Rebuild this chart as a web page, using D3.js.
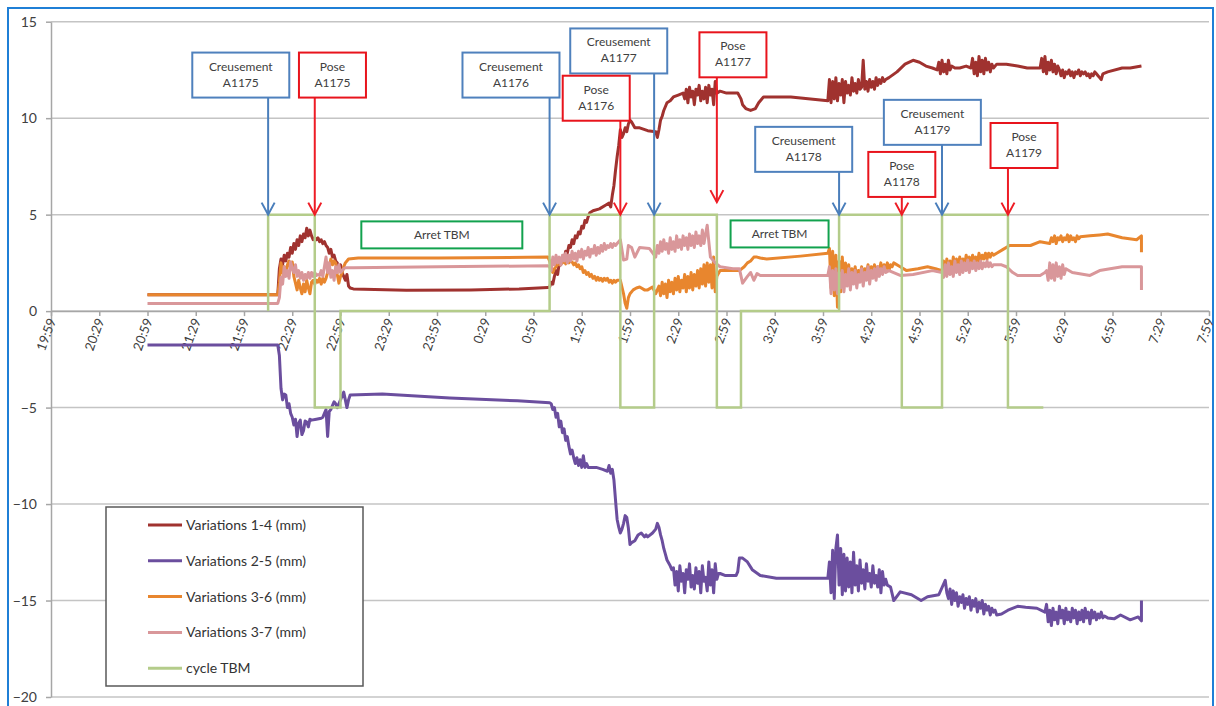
<!DOCTYPE html>
<html>
<head>
<meta charset="utf-8">
<script src="https://cdn.jsdelivr.net/npm/d3@7"></script>
<style>
  body { margin: 0; background: #fff; }
  svg { display: block; font-family: Lato, "Open Sans", sans-serif; }
</style>
</head>
<body>
<div id="chart"></div>
<script>
// Convergence measurements during TBM cycles (night shift)

const tickLabels = ["19:59", "20:29", "20:59", "21:29", "21:59", "22:29", "22:59", "23:29", "23:59",
  "0:29", "0:59", "1:29", "1:59", "2:29", "2:59", "3:29", "3:59", "4:29", "4:59", "5:29", "5:59",
  "6:29", "6:59", "7:29", "7:59"];
const yTicks = [-20, -15, -10, -5, 0, 5, 10, 15];

const seriesNames = ["Variations 1-4 (mm)", "Variations 2-5 (mm)", "Variations 3-6 (mm)",
  "Variations 3-7 (mm)", "cycle TBM"];
const seriesColors = ["#a0322f", "#6b4e9e", "#e8862e", "#d9979a", "#b4cc8a"];

// rows: [start time, value at that minute, value at next minute, ...]
const series14 = [
  ["20:59", 0.85], ["22:20", 0.85],
  ["22:21", 2.2, 2.7, 2.4, 2.9, 2.6, 3.0, 2.8, 3.3, 3.0, 3.5],
  ["22:31", 3.2, 3.7, 3.4, 3.9, 3.6, 4.0, 3.8, 4.3, 3.9, 4.2],
  ["22:41", 3.9, 3.7, 3.8, 3.7, 3.8, 3.6, 3.7, 3.5, 3.6, 3.4],
  ["22:51", 3.3, 3.0, 3.2, 2.8, 2.9, 2.6, 2.5, 2.2, 2.4],
  ["23:00", 2.0, 1.8, 1.6, 1.9, 1.3, 1.2],
  ["23:07", 1.15], ["23:40", 1.08], ["0:20", 1.1], ["0:50", 1.15], ["1:08", 1.22],
  ["1:09", 1.25, 1.5, 1.4, 1.8, 2.1, 1.9, 2.5, 2.4, 2.8, 2.7],
  ["1:19", 3.1, 3.0, 3.4, 3.3, 3.7, 3.5, 3.9, 3.8, 4.1, 4.0],
  ["1:29", 4.4, 4.3, 4.7, 4.6, 4.9, 5.1],
  ["1:36", 5.2], ["1:40", 5.3], ["1:44", 5.5],
  ["1:46", 5.6, 5.4, 6.0, 6.5, 7.3, 8.0, 8.6, 9.4, 9.0, 9.2],
  ["1:56", 9.5, 9.3, 9.7, 9.9, 9.8],
  ["2:02", 9.5], ["2:05", 9.5], ["2:10", 9.35], ["2:15", 9.3],
  ["2:16", 9.0, 9.4, 9.9, 10.1, 10.4],
  ["2:22", 10.8], ["2:24", 10.9], ["2:26", 11.1], ["2:29", 11.2], ["2:32", 11.3],
  ["2:33", 11.0, 11.5, 10.8, 11.6, 11.1, 11.4, 10.7, 11.5, 11.2, 11.7],
  ["2:43", 10.9, 11.4, 11.0, 11.6, 10.8, 11.7, 11.2, 11.5, 10.7, 11.9],
  ["2:53", 11.3], ["2:55", 11.4], ["2:59", 11.3], ["3:06", 11.3], ["3:08", 11.0], ["3:09", 10.7],
  ["3:11", 10.5], ["3:14", 10.4], ["3:17", 10.5], ["3:19", 10.8], ["3:22", 11.1], ["3:39", 11.1], ["4:02", 10.9],
  ["4:03", 12.0, 10.8, 11.9, 11.0, 12.1, 10.9, 11.8, 11.2, 12.0, 10.8],
  ["4:13", 11.9, 11.3, 11.7, 11.2, 12.1, 11.4, 11.8, 11.3, 12.0, 11.5],
  ["4:23", 11.6, 13.0, 11.5, 11.9, 11.4, 12.0, 11.6, 11.9, 11.5, 12.1],
  ["4:33", 11.7, 12.0, 11.8, 12.1, 11.9, 12.0],
  ["4:40", 12.1], ["4:45", 12.4], ["4:50", 12.8], ["4:55", 13.0], ["4:59", 12.9], ["5:03", 12.7],
  ["5:07", 12.6], ["5:10", 12.5],
  ["5:11", 12.9, 12.3, 13.0, 12.4, 12.8, 12.3, 13.0, 12.5, 12.7],
  ["5:21", 12.6], ["5:24", 12.6], ["5:28", 12.7], ["5:31", 12.6],
  ["5:32", 13.1, 12.3, 12.9, 12.2, 13.2, 12.4, 13.0, 12.3, 13.1, 12.5],
  ["5:42", 12.9, 12.4, 12.8, 12.6],
  ["5:47", 12.8], ["5:53", 12.8], ["6:00", 12.7], ["6:06", 12.6], ["6:14", 12.6],
  ["6:15", 13.1, 12.4, 13.2, 12.3, 12.9, 12.5, 13.0, 12.4, 12.8, 12.3],
  ["6:25", 12.7, 12.5, 12.2, 12.5, 12.1, 12.4, 12.3, 12.5, 12.2, 12.4],
  ["6:35", 12.1, 12.4, 12.3, 12.5, 12.2, 12.4, 12.3, 12.4, 12.2, 12.3],
  ["6:45", 12.1, 12.3, 12.2, 12.4, 12.3, 12.2, 12.1],
  ["6:52", 12.0], ["6:53", 12.3], ["6:56", 12.4], ["7:05", 12.6], ["7:10", 12.6], ["7:17", 12.7]
];

const series25 = [
  ["20:59", -1.76], ["22:20", -1.76],
  ["22:21", -2.3, -4.0, -4.6, -4.3, -4.35, -5.0, -4.8, -5.3, -5.5, -5.9],
  ["22:31", -5.6, -6.5, -5.8, -5.65, -6.4, -6.2, -5.7, -5.75, -6.0, -5.6],
  ["22:41", -5.65], ["22:44", -5.6], ["22:47", -5.55], ["22:48", -5.5],
  ["22:49", -5.3, -5.1, -6.5, -5.2, -5.1, -4.9, -4.7, -4.8, -5.0, -4.8, -4.6],
  ["23:00", -4.4, -4.2, -4.6, -5.0, -4.6, -4.35],
  ["23:25", -4.3], ["0:07", -4.5], ["0:49", -4.65], ["1:09", -4.75],
  ["1:10", -4.8, -5.1, -5.0, -5.5, -5.3, -6.0, -5.7, -6.3, -6.1, -6.7],
  ["1:20", -6.5, -7.0, -7.4, -7.2, -7.6, -7.9, -7.6, -8.0, -7.7, -8.1],
  ["1:30", -7.5, -8.1, -7.9, -8.1],
  ["1:38", -8.1], ["1:42", -8.2],
  ["1:45", -8.3, -8.0, -8.4, -8.2, -8.75, -9.8, -10.8, -11.2, -11.5, -11.3],
  ["1:55", -11.0, -10.6, -10.7, -11.25, -12.1, -12.0],
  ["2:02", -11.9], ["2:04", -11.6], ["2:06", -11.5], ["2:08", -11.7], ["2:09", -11.6], ["2:10", -11.7],
  ["2:13", -11.5], ["2:15", -11.3],
  ["2:16", -11.0, -11.2, -11.6, -11.9, -12.3, -12.6, -12.9],
  ["2:24", -13.2], ["2:25", -13.4],
  ["2:26", -13.3, -14.2, -13.5, -14.5, -13.2, -14.0, -13.6, -14.6, -13.4, -13.9],
  ["2:36", -13.1, -14.3, -13.7, -14.4, -13.3, -14.1, -13.5, -14.6, -13.2, -14.0],
  ["2:46", -13.8, -14.5, -13.0, -14.2, -13.4, -14.6, -13.1, -13.9, -13.6],
  ["2:55", -13.6], ["2:58", -13.7], ["3:05", -13.7], ["3:06", -13.5], ["3:07", -12.8], ["3:09", -12.8],
  ["3:12", -13.0], ["3:15", -13.4], ["3:20", -13.7], ["3:30", -13.85], ["4:02", -13.85],
  ["4:03", -13.0, -14.6, -12.4, -14.9, -12.3, -11.6, -14.2, -12.3, -14.7, -12.6],
  ["4:13", -14.5, -12.8, -14.3, -13.0, -14.6, -12.5, -14.2, -13.2, -14.5, -12.9],
  ["4:23", -14.1, -13.4, -14.4, -13.1, -14.0, -13.6, -14.3, -13.2, -14.1, -13.7],
  ["4:33", -14.3, -13.4, -14.6, -13.5, -14.2, -13.9, -14.2],
  ["4:41", -14.3], ["4:43", -15.0], ["4:47", -14.55], ["4:54", -14.7], ["5:00", -15.0], ["5:04", -14.8],
  ["5:11", -14.7], ["5:15", -13.95],
  ["5:16", -14.6, -14.9, -14.4, -15.2, -14.5, -15.0, -14.6, -15.3, -14.8, -15.1],
  ["5:26", -14.7, -15.4, -14.9, -15.2, -14.8, -15.5, -15.0, -15.3, -14.9, -15.6],
  ["5:36", -15.1, -15.4, -15.0, -15.7, -15.2, -15.5, -15.3, -15.75, -15.4, -15.6],
  ["5:46", -15.5, -15.75],
  ["5:50", -15.7], ["5:54", -15.5], ["6:00", -15.3], ["6:05", -15.35], ["6:12", -15.4], ["6:17", -15.6],
  ["6:18", -15.2, -16.1, -15.5, -16.3, -15.4, -16.0, -15.6, -16.2, -15.3, -15.9],
  ["6:28", -15.5, -16.2, -15.4, -16.0, -15.6, -16.1, -15.4, -15.9, -15.5, -16.2],
  ["6:38", -15.6, -16.0, -15.5, -16.1, -15.4, -15.9, -15.6, -16.2, -15.5, -15.9],
  ["6:48", -15.6, -16.0, -15.7, -15.9, -15.6, -15.9, -15.8],
  ["6:56", -15.9], ["7:00", -15.95], ["7:04", -15.75], ["7:10", -16.0], ["7:15", -15.85],
  ["7:17", -16.05], ["7:17", -15.0]
];

const series36 = [
  ["20:59", 0.85], ["22:20", 0.85],
  ["22:21", 1.5, 2.5, 2.0, 2.3, 1.9, 2.4, 2.6, 2.2, 2.55, 1.8],
  ["22:31", 1.45, 1.1, 1.6, 1.2, 0.9, 1.4, 1.0, 1.6, 1.2, 0.9],
  ["22:41", 1.5, 1.6, 1.4, 1.6, 1.5, 1.7, 1.4, 1.7, 1.5, 1.7],
  ["22:51", 2.0, 2.3, 2.7, 2.4, 2.6, 2.5, 1.9, 1.45, 1.8],
  ["23:00", 2.0, 2.3, 2.5, 2.6, 2.7],
  ["23:10", 2.75], ["0:00", 2.75], ["1:08", 2.8],
  ["1:09", 2.6, 2.3, 2.0, 2.2, 2.3, 2.5, 2.4, 2.6, 2.5, 2.6],
  ["1:19", 2.45, 2.6, 2.5, 2.6, 2.55, 2.4, 2.5, 2.3, 2.4, 2.2],
  ["1:29", 2.3, 2.0, 2.1, 1.9, 2.0, 1.8, 1.9, 1.7, 1.8, 1.6],
  ["1:39", 1.75, 1.6, 1.7, 1.55, 1.7, 1.6, 1.7, 1.5, 1.6, 1.45],
  ["1:49", 1.6, 1.5, 1.6, 1.6],
  ["1:53", 1.6], ["1:55", 0.9], ["1:56", 0.4], ["1:57", 0.15], ["1:58", 0.7], ["1:59", 0.9], ["2:01", 1.1],
  ["2:03", 1.2], ["2:05", 1.25], ["2:08", 1.1], ["2:10", 1.1], ["2:13", 1.25], ["2:15", 0.9], ["2:16", 1.1],
  ["2:17", 1.3, 0.8, 1.5, 0.9, 1.4, 0.7, 1.6, 1.0, 1.5, 0.9],
  ["2:27", 1.7, 1.1, 1.8, 1.0, 1.6, 1.2, 1.9, 1.0, 1.8, 1.2],
  ["2:37", 2.0, 1.1, 1.9, 1.3, 2.1, 1.2, 2.2, 1.4, 2.4, 1.3],
  ["2:47", 2.5, 1.5, 2.4, 1.2, 2.8, 1.0],
  ["2:53", 1.8], ["2:55", 2.1], ["2:59", 2.1], ["3:07", 2.1], ["3:10", 2.3], ["3:12", 2.5], ["3:14", 2.6],
  ["3:16", 2.8], ["3:18", 2.8], ["3:20", 2.75], ["3:24", 2.7], ["3:45", 2.85], ["4:02", 3.0],
  ["4:03", 3.25, 1.2, 3.1, 0.8, 2.9, 0.2, 2.6, 1.0, 2.8, 1.3],
  ["4:13", 2.5, 1.5, 2.4, 1.6],
  ["4:17", 2.2, 1.7, 2.3, 1.6, 2.1, 1.8, 2.3, 1.7, 2.2, 1.9],
  ["4:27", 2.4, 1.8, 2.3, 2.0, 2.4, 1.9, 2.3, 2.1, 2.5, 2.0],
  ["4:37", 2.4, 2.2, 2.5, 2.1, 2.4, 2.3],
  ["4:43", 2.5], ["4:47", 2.3], ["4:51", 2.1], ["4:58", 2.2], ["5:04", 2.3], ["5:09", 2.2], ["5:13", 2.1],
  ["5:14", 2.6, 2.0, 2.7, 2.2, 2.6, 2.1, 2.8, 2.3, 2.7, 2.2],
  ["5:24", 2.8, 2.4, 2.7, 2.3, 2.9, 2.5, 2.8, 2.4, 2.9, 2.6],
  ["5:34", 2.8, 2.5, 3.0, 2.6, 2.9, 2.7, 3.0, 2.7, 3.0, 2.8],
  ["5:44", 3.0, 2.9],
  ["5:47", 3.0], ["5:51", 3.2], ["5:55", 3.4], ["6:08", 3.4], ["6:14", 3.6],
  ["6:20", 3.5, 3.8, 3.6, 3.9, 3.5, 3.8, 3.7, 3.9, 3.6, 3.8],
  ["6:30", 3.7, 3.95, 3.6, 3.9, 3.7, 3.8, 3.6, 3.9, 3.75, 3.85],
  ["6:45", 3.9], ["6:51", 3.95], ["6:56", 4.0], ["7:05", 3.8], ["7:14", 3.7], ["7:17", 3.9], ["7:17", 3.05]
];

const series37 = [
  ["20:59", 0.4], ["22:20", 0.4],
  ["22:21", 0.7, 1.75, 1.4, 2.3, 1.8, 2.1, 1.7, 2.55, 2.2, 2.0],
  ["22:31", 2.4, 1.8, 2.1, 1.7, 2.0, 1.6, 1.9, 1.7, 2.0, 1.7],
  ["22:41", 2.0, 1.8, 2.0, 1.85, 1.9, 1.85, 2.1, 1.8, 2.3, 2.8],
  ["22:51", 2.0, 2.5, 1.75, 2.1, 1.6, 2.3, 2.0, 2.4, 2.0],
  ["23:00", 2.1, 2.2, 2.25],
  ["23:07", 2.25], ["0:00", 2.3], ["1:08", 2.35],
  ["1:09", 2.3, 2.1, 2.8, 2.4, 2.9, 2.5, 2.8, 2.4, 2.9, 2.6],
  ["1:19", 3.0, 2.5, 2.9, 2.6, 3.1, 2.7, 3.0, 2.6, 3.1, 2.8],
  ["1:29", 3.2, 2.7, 3.1, 2.9, 3.3, 2.8, 3.2, 3.0, 3.4, 2.9],
  ["1:39", 3.3, 3.0, 3.4, 3.1, 3.5, 3.2, 3.4, 3.3, 3.5, 3.3],
  ["1:49", 3.5, 3.4, 3.5, 3.6],
  ["1:53", 3.7], ["1:55", 2.65], ["1:57", 2.7], ["1:58", 3.4], ["2:00", 3.3], ["2:02", 2.8], ["2:05", 3.3],
  ["2:11", 3.25], ["2:15", 2.8], ["2:16", 3.4],
  ["2:17", 3.0, 3.6, 3.1, 3.7, 3.2, 3.5, 3.0, 3.8, 3.2, 3.6],
  ["2:27", 3.1, 3.9, 3.3, 3.7, 3.2, 3.9, 3.4, 3.8, 3.2, 4.0],
  ["2:37", 3.4, 3.9, 3.3, 4.1, 3.5, 3.9, 3.4, 4.2, 3.5, 4.0],
  ["2:47", 4.45, 3.6, 2.8],
  ["2:51", 2.6], ["2:52", 2.5], ["2:55", 2.3], ["3:03", 2.2], ["3:07", 2.2], ["3:09", 1.45], ["3:12", 1.8],
  ["3:14", 2.0], ["3:16", 1.6], ["3:18", 1.95], ["3:20", 1.85], ["3:45", 1.85], ["4:02", 1.85],
  ["4:03", 2.3, 0.9, 2.1, 1.1, 2.2, 0.9, 2.0, 1.2, 2.1, 1.0],
  ["4:13", 1.9, 1.3, 2.2, 1.1, 2.0, 1.4, 2.1, 1.2, 1.9, 1.5],
  ["4:23", 2.2, 1.3, 2.0, 1.6, 2.3, 1.4, 2.1, 1.7, 2.2, 1.6],
  ["4:33", 2.3, 1.8, 2.2, 1.9, 2.3, 2.0],
  ["4:40", 2.1], ["4:47", 1.85], ["4:55", 1.9], ["5:07", 2.1], ["5:13", 2.0],
  ["5:14", 1.75, 2.4, 1.8, 2.5, 1.9, 2.3, 1.8, 2.6, 2.0, 2.4],
  ["5:24", 1.9, 2.6, 2.0, 2.5, 2.1, 2.65, 2.0, 2.5, 2.2, 2.6],
  ["5:34", 2.1, 2.5, 2.2, 2.6, 2.2, 2.5, 2.3, 2.6, 2.3, 2.5],
  ["5:44", 2.3, 2.4],
  ["5:50", 2.4], ["5:53", 2.3], ["5:57", 2.0], ["6:00", 1.85], ["6:14", 1.85], ["6:17", 2.0],
  ["6:18", 2.1, 1.6, 2.5, 1.7, 2.4, 1.6, 2.5, 1.8, 2.3, 1.7],
  ["6:28", 2.4, 1.9, 2.2],
  ["6:34", 2.0], ["6:45", 1.85], ["6:51", 2.1], ["7:05", 2.3], ["7:17", 2.3], ["7:17", 1.1]
];

// TBM cycle: 5 = digging, -5 = ring building, 0 = stopped
const cycleTBM = [
  ["22:14", 0], ["22:14", 5], ["22:43", 5], ["22:43", -5], ["22:59", -5], ["22:59", 0],
  ["1:09", 0], ["1:09", 5], ["1:53", 5], ["1:53", -5], ["2:14", -5], ["2:14", 5],
  ["2:53", 5], ["2:53", -5], ["3:08", -5], ["3:08", 0], ["4:09", 0], ["4:09", 5],
  ["4:48", 5], ["4:48", -5], ["5:13", -5], ["5:13", 5], ["5:54", 5], ["5:54", -5], ["6:16", -5]
];

// callouts: arrow time, box centre time, box top value
const callouts = [
  { l1: "Creusement", l2: "A1175", kind: "c", at: "22:14", box: "21:57", top: 13.4, tip: 5 },
  { l1: "Pose", l2: "A1175", kind: "p", at: "22:43", box: "22:54", top: 13.4, tip: 5 },
  { l1: "Creusement", l2: "A1176", kind: "c", at: "1:09", box: "0:45", top: 13.4, tip: 5 },
  { l1: "Creusement", l2: "A1177", kind: "c", at: "2:14", box: "1:52", top: 14.65, tip: 5 },
  { l1: "Pose", l2: "A1176", kind: "p", at: "1:53", box: "1:38", top: 12.2, tip: 5 },
  { l1: "Pose", l2: "A1177", kind: "p", at: "2:53", box: "3:03", top: 14.45, tip: 5.65 },
  { l1: "Creusement", l2: "A1178", kind: "c", at: "4:09", box: "3:47", top: 9.55, tip: 5 },
  { l1: "Pose", l2: "A1178", kind: "p", at: "4:48", box: "4:48", top: 8.25, tip: 5 },
  { l1: "Creusement", l2: "A1179", kind: "c", at: "5:13", box: "5:07", top: 10.95, tip: 5 },
  { l1: "Pose", l2: "A1179", kind: "p", at: "5:54", box: "6:04", top: 9.75, tip: 5 }
];
const stops = [
  { text: "Arret TBM", box: "0:02", top: 4.65, w: 161 },
  { text: "Arret TBM", box: "3:32", top: 4.7, w: 98 }
];

const width = 1216, height = 706;

// minutes since 19:59
function toMin(s) {
  const p = s.split(":").map(Number);
  const h = p[0] >= 12 ? p[0] : p[0] + 24;
  return h * 60 + p[1] - (19 * 60 + 59);
}

function expand(rows) {
  const out = [];
  rows.forEach(function(r) {
    const t0 = toMin(r[0]);
    r.slice(1).forEach(function(v, i) {
      out.push({ t: t0 + i, v: v });
    });
  });
  return out;
}

const x = d3.scaleLinear().domain([0, 720]).range([51, 1209]);
const y = d3.scaleLinear().domain([-20, 15]).range([697, 21.7]);

const svg = d3.select("#chart").append("svg")
  .attr("width", width)
  .attr("height", height);

svg.append("rect")
  .attr("width", width).attr("height", height)
  .attr("fill", "#fff");

// outer frame
svg.append("rect")
  .attr("x", 8).attr("y", 8)
  .attr("width", 1205).attr("height", 720)
  .attr("fill", "none")
  .attr("stroke", "#1f7fd6")
  .attr("stroke-width", 2);

// gridlines
svg.append("g")
  .selectAll("line")
  .data(yTicks)
  .join("line")
  .attr("x1", x(0)).attr("x2", x(720))
  .attr("y1", d => y(d)).attr("y2", d => y(d))
  .attr("stroke", "#c4c4c4")
  .attr("stroke-width", 1.5);

// y axis
const yAxis = svg.append("g")
  .attr("transform", "translate(" + x(0) + ",0)")
  .call(d3.axisLeft(y).tickValues(yTicks).tickSize(5).tickSizeOuter(0).tickPadding(9));
yAxis.select(".domain").attr("stroke", "#a6a6a6").attr("stroke-width", 1.5);
yAxis.selectAll(".tick line").attr("stroke", "#a6a6a6").attr("stroke-width", 1.5);
yAxis.selectAll("text")
  .attr("font-family", "Lato, 'Open Sans', sans-serif")
  .attr("font-size", 14)
  .attr("fill", "#404040");

// x axis on the zero line
const tickMins = tickLabels.map(toMin);
const xAxis = svg.append("g")
  .attr("transform", "translate(0," + y(0) + ")")
  .call(d3.axisBottom(x).tickValues(tickMins).tickSize(5).tickSizeOuter(0)
    .tickFormat((d, i) => tickLabels[i]));
xAxis.select(".domain").attr("stroke", "#a6a6a6").attr("stroke-width", 1.5);
xAxis.selectAll(".tick line").attr("stroke", "#a6a6a6").attr("stroke-width", 1.5);
xAxis.selectAll("text")
  .attr("font-family", "Lato, 'Open Sans', sans-serif")
  .attr("font-size", 13)
  .attr("fill", "#404040")
  .attr("x", -7)
  .attr("y", 3)
  .attr("dy", "0.35em")
  .attr("text-anchor", "end")
  .attr("transform", "rotate(-70)");

// series
const line = d3.line()
  .x(d => x(d.t))
  .y(d => y(d.v));

const allSeries = [series14, series25, series36, series37];
allSeries.forEach(function(rows, i) {
  svg.append("path")
    .datum(expand(rows))
    .attr("fill", "none")
    .attr("stroke", seriesColors[i])
    .attr("stroke-width", 3)
    .attr("stroke-linejoin", "round")
    .attr("d", line);
});

svg.append("path")
  .datum(cycleTBM.map(r => ({ t: toMin(r[0]), v: r[1] })))
  .attr("fill", "none")
  .attr("stroke", seriesColors[4])
  .attr("stroke-width", 2.5)
  .attr("d", line);

// legend
const legend = svg.append("g").attr("transform", "translate(106,507)");
legend.append("rect")
  .attr("width", 257).attr("height", 179)
  .attr("fill", "#fff")
  .attr("stroke", "#595959")
  .attr("stroke-width", 1.5);
const items = legend.selectAll("g.item")
  .data(seriesNames)
  .join("g")
  .attr("class", "item")
  .attr("transform", (d, i) => "translate(0," + (18 + i * 35.8) + ")");
items.append("line")
  .attr("x1", 42).attr("x2", 76)
  .attr("stroke", (d, i) => seriesColors[i])
  .attr("stroke-width", 3);
items.append("text")
  .attr("x", 80)
  .attr("dy", "0.35em")
  .attr("font-size", 14)
  .attr("fill", "#333")
  .text(d => d);

// stop boxes
const stopG = svg.append("g")
  .selectAll("g")
  .data(stops)
  .join("g");
stopG.append("rect")
  .attr("x", d => x(toMin(d.box)) - d.w / 2)
  .attr("y", d => y(d.top))
  .attr("width", d => d.w)
  .attr("height", 27)
  .attr("fill", "#fff")
  .attr("stroke", "#12a24e")
  .attr("stroke-width", 2);
stopG.append("text")
  .attr("x", d => x(toMin(d.box)))
  .attr("y", d => y(d.top) + 13.5)
  .attr("dy", "0.35em")
  .attr("text-anchor", "middle")
  .attr("font-size", 12)
  .attr("fill", "#404040")
  .text(d => d.text);

// callouts
const boxColor = { c: "#4f81bd", p: "#e8141c" };
const arrowColor = { c: "#4a7ebb", p: "#ee1c25" };
const boxW = { c: 97, p: 67 };
const boxH = 45;

const call = svg.append("g")
  .selectAll("g")
  .data(callouts)
  .join("g");

call.append("line")
  .attr("x1", d => x(toMin(d.at))).attr("x2", d => x(toMin(d.at)))
  .attr("y1", d => y(d.top) + boxH)
  .attr("y2", d => y(d.tip))
  .attr("stroke", d => arrowColor[d.kind])
  .attr("stroke-width", 2);
call.append("path")
  .attr("d", function(d) {
    const ax = x(toMin(d.at)), ay = y(d.tip);
    return "M" + (ax - 6.5) + "," + (ay - 12) + "L" + ax + "," + ay + "L" + (ax + 6.5) + "," + (ay - 12);
  })
  .attr("fill", "none")
  .attr("stroke", d => arrowColor[d.kind])
  .attr("stroke-width", 2);
call.append("rect")
  .attr("x", d => x(toMin(d.box)) - boxW[d.kind] / 2)
  .attr("y", d => y(d.top))
  .attr("width", d => boxW[d.kind])
  .attr("height", boxH)
  .attr("fill", "#fff")
  .attr("stroke", d => boxColor[d.kind])
  .attr("stroke-width", 2);
call.append("text")
  .attr("x", d => x(toMin(d.box)))
  .attr("y", d => y(d.top) + 18)
  .attr("text-anchor", "middle")
  .attr("font-size", 12)
  .attr("fill", "#404040")
  .text(d => d.l1);
call.append("text")
  .attr("x", d => x(toMin(d.box)))
  .attr("y", d => y(d.top) + 34)
  .attr("text-anchor", "middle")
  .attr("font-size", 12)
  .attr("fill", "#404040")
  .text(d => d.l2);
</script>
</body>
</html>
